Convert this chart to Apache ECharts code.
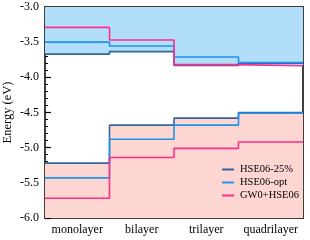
<!DOCTYPE html>
<html><head><meta charset="utf-8">
<script src="https://cdn.jsdelivr.net/npm/echarts@6/dist/echarts.min.js"></script>
<style>html,body{margin:0;padding:0;background:#fff}#c{width:310px;height:240px}</style>
</head><body><div id="c"></div>
<script>
const categories = ['monolayer', 'bilayer', 'trilayer', 'quadrilayer'];
const seriesNames = ['HSE06-25%', 'HSE06-opt', 'GW0+HSE06'];
// conduction band minimum (eV)
const cbHSE25 = [-3.67, -3.635, -3.83, -3.80];
const cbHSEopt = [-3.50, -3.555, -3.71, -3.79];
const cbGW = [-3.29, -3.47, -3.82, -3.835];
// valence band maximum (eV)
const vbHSE25 = [-5.22, -4.68, -4.58, -4.50];
const vbHSEopt = [-5.43, -4.88, -4.68, -4.51];
const vbGW = [-5.72, -5.14, -5.01, -4.92];
const yTicks = [-6.0, -5.5, -5.0, -4.5, -4.0, -3.5, -3.0];

const colors = ['#33659c', '#1f93f0', '#ff2d8c'];
const font = "'Liberation Serif','Times New Roman',serif";

function steps(vals) {
  const d = vals.map((v, i) => [i, v]);
  d.push([vals.length, vals[vals.length - 1]]);
  return d;
}
const cbMin = cbHSE25.map((v, i) => Math.min(v, cbHSEopt[i], cbGW[i]));
const vbMax = vbHSE25.map((v, i) => Math.max(v, vbHSEopt[i], vbGW[i]));

const chart = echarts.init(document.getElementById('c'));
const lineSeries = (name, vals, color) => ({
  name, type: 'line', step: 'end', data: steps(vals), symbol: 'none',
  lineStyle: { color, width: 1.6 }, itemStyle: { color }, z: 3
});
chart.setOption({
  animation: false,
  grid: { left: 45, right: 7, top: 7, bottom: 22, outerBoundsMode: 'none', containLabel: false },
  xAxis: [
    { type: 'value', min: 0, max: 4, position: 'top',
      axisLine: { show: true, lineStyle: { color: '#000', width: 1.5 } },
      axisTick: { show: false }, axisLabel: { show: false }, splitLine: { show: false } },
    { type: 'category', data: categories, position: 'bottom', boundaryGap: true,
      axisLine: { show: true, onZero: false, lineStyle: { color: '#000', width: 1.5 } },
      axisTick: { show: false },
      axisLabel: { color: '#000', fontFamily: font, fontSize: 12, margin: 6, interval: 0 } }
  ],
  yAxis: [
    { type: 'value', min: -6, max: -3, interval: 0.5, position: 'left',
      name: 'Energy (eV)', nameLocation: 'middle', nameGap: 31, nameMoveOverlap: false,
      nameTextStyle: { color: '#000', fontFamily: font, fontSize: 12.5 },
      axisLine: { show: true, lineStyle: { color: '#000', width: 1.5 } },
      axisTick: { show: true, inside: true, length: 6, lineStyle: { color: '#000', width: 1.2 } },
      minorTick: { show: true, splitNumber: 5, length: 3, lineStyle: { color: '#000', width: 1 } },
      axisLabel: { color: '#000', fontFamily: font, fontSize: 12, margin: 6,
        formatter: v => yTicks.includes(v) ? v.toFixed(1) : '' },
      splitLine: { show: false } },
    { type: 'value', min: -6, max: -3, position: 'right',
      axisLine: { show: true, lineStyle: { color: '#000', width: 1.5 } },
      axisTick: { show: false }, axisLabel: { show: false }, splitLine: { show: false } }
  ],
  legend: {
    data: seriesNames, orient: 'vertical', left: 222, top: 164, padding: 0,
    itemWidth: 12, itemHeight: 2, itemGap: 2, icon: 'rect',
    textStyle: { color: '#000', fontFamily: font, fontSize: 10.5, padding: [0, 0, 0, 1] }
  },
  series: [
    { type: 'line', step: 'end', data: steps(cbMin), symbol: 'none', silent: true,
      lineStyle: { width: 0 }, areaStyle: { color: '#b0defb', opacity: 1, origin: 'end' }, z: 1 },
    { type: 'line', step: 'end', data: steps(vbMax), symbol: 'none', silent: true,
      lineStyle: { width: 0 }, areaStyle: { color: '#fdd6d1', opacity: 1, origin: 'start' }, z: 1 },
    lineSeries(seriesNames[0], cbHSE25, colors[0]),
    lineSeries(seriesNames[1], cbHSEopt, colors[1]),
    lineSeries(seriesNames[2], cbGW, colors[2]),
    lineSeries(seriesNames[0], vbHSE25, colors[0]),
    lineSeries(seriesNames[1], vbHSEopt, colors[1]),
    lineSeries(seriesNames[2], vbGW, colors[2])
  ],
  graphic: [
    { type: 'text', left: 135, top: 14, style: { text: 'Conduction Band', fill: '#000', font: '10.5px ' + font } },
    { type: 'text', left: 143, top: 196, style: { text: 'Valence Band', fill: '#000', font: '10.5px ' + font } }
  ]
});
</script></body></html>
